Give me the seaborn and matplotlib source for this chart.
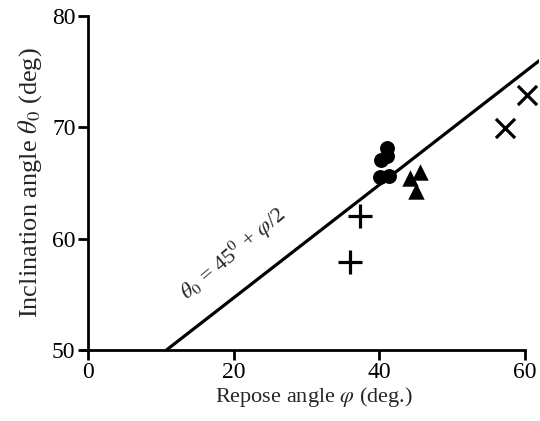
import matplotlib
matplotlib.use("Agg")
import matplotlib.pyplot as plt
import seaborn as sns

# Data
circle_phi = [41.0, 40.3, 41.0, 40.1, 41.3]
circle_theta = [68.1, 67.1, 67.4, 65.5, 65.6]
tri_phi = [44.2, 45.6, 45.1]
tri_theta = [65.4, 66.0, 64.3]
plus_phi = [37.4, 36.0]
plus_theta = [62.0, 57.9]
cross_phi = [60.3, 57.3]
cross_theta = [72.9, 69.9]
line_phi = [10.8, 62.0]
line_theta = [50.0, 76.0]
x_ticks = [0, 20, 40, 60]
y_ticks = [50, 60, 70, 80]

sns.set_style("ticks")
plt.rcParams['font.family'] = ['Liberation Serif', 'DejaVu Serif']
plt.rcParams['mathtext.fontset'] = 'stix'

fig = plt.figure(figsize=(5.40, 4.21), dpi=100)
ax = fig.add_axes([0.163, 0.169, 0.836, 0.793])

sns.lineplot(x=line_phi, y=line_theta, ax=ax, color='black', linewidth=2.3)
sns.scatterplot(x=circle_phi, y=circle_theta, ax=ax, marker='o', s=115,
                color='black', edgecolor='black', linewidth=0)
sns.scatterplot(x=tri_phi, y=tri_theta, ax=ax, marker='^', s=140,
                color='black', edgecolor='black', linewidth=0)
sns.scatterplot(x=plus_phi, y=plus_theta, ax=ax, marker='+', s=290,
                color='black', linewidth=2.3)
sns.scatterplot(x=cross_phi, y=cross_theta, ax=ax, marker='x', s=190,
                color='black', linewidth=2.3)

ax.set_xlim(0, 62)
ax.set_ylim(50, 80)
ax.set_xticks(x_ticks)
ax.set_yticks(y_ticks)
ax.spines['bottom'].set_bounds(-0.8, 60)
ax.spines['left'].set_bounds(50, 80)
for s in ['top', 'right']:
    ax.spines[s].set_visible(False)
for s in ['bottom', 'left']:
    ax.spines[s].set_linewidth(2.0)
    ax.spines[s].set_color('black')
ax.tick_params(axis='both', direction='out', length=7, width=2.0,
               labelsize=17, colors='black', pad=2)

ax.set_xlabel(r'Repose angle $\varphi$ (deg.)', fontsize=16, labelpad=1)
ax.set_ylabel(r'Inclination angle $\theta_0$ (deg)', fontsize=19, labelpad=6)

ax.text(19.9, 58.6, r'$\theta_0$ = 45$^0$ + $\varphi$/2', fontsize=16,
        rotation=40, rotation_mode='anchor', ha='center', va='center')

fig.savefig('out.png', dpi=100)
